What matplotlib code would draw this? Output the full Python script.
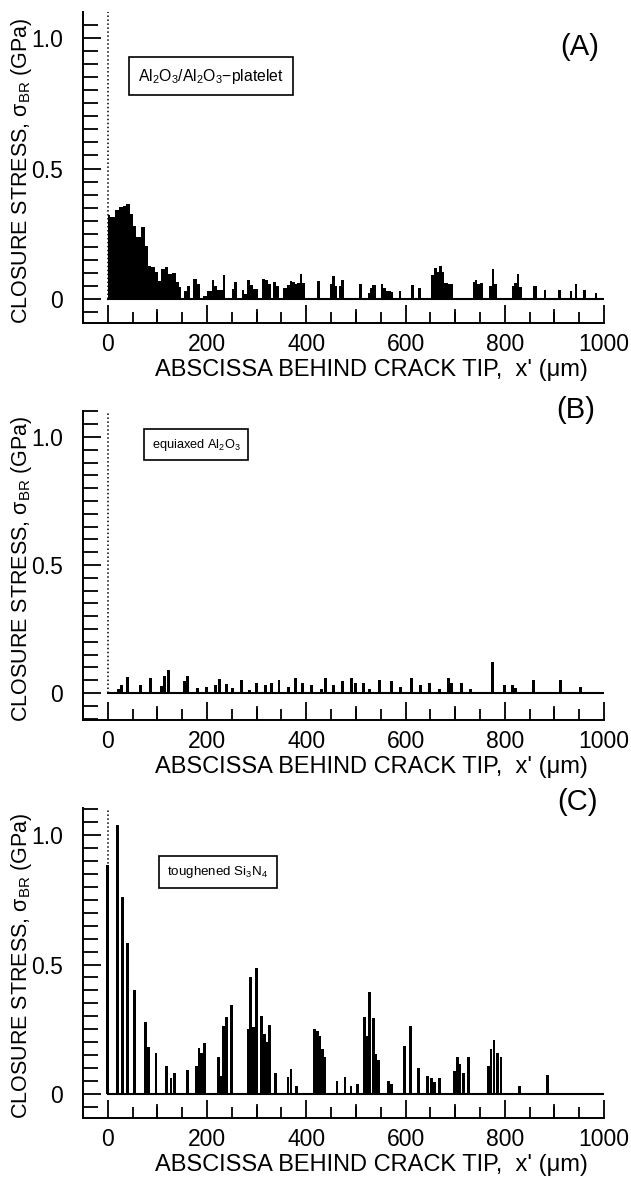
import matplotlib
matplotlib.use("Agg")
import matplotlib.pyplot as plt
from matplotlib.ticker import MultipleLocator, FixedLocator

plt.rcParams.update({
    "font.family": ["Liberation Sans", "DejaVu Sans"],
    "mathtext.fontset": "custom",
    "mathtext.rm": "Liberation Sans",
    "mathtext.it": "Liberation Sans",
    "mathtext.bf": "Liberation Sans",
})

# ---------------------------------------------------------------- data (um, GPa)
# (A) Al2O3/Al2O3-platelet : bars given by left edge, right edge, height
a_left = [0, 5.4, 14.1, 22.8, 30.9, 36.3, 44.4, 51.1, 57.8, 65.9, 74.6, 81.3, 88, 96.1,
          101.5, 108.2, 114.9, 121.6, 128.4, 137.1, 143.8, 153.9, 158.6, 172, 178.8,
          192.2, 198.9, 209, 213.7, 219.1, 232.5, 249.3, 254, 269.5, 274.2, 280.9, 286.3,
          293, 310.5, 316.5, 323.3, 333.3, 338.7, 353.5, 360.2, 366.9, 371.6, 376.3,
          381, 387, 392, 420.7, 447.5, 452.8, 457.5, 466, 470.5, 506.7, 523.5, 528,
          533, 550, 555.6, 561, 564.5, 570, 586, 611.8, 626, 652, 657, 662.6, 668,
          672.7, 678, 686, 735, 740, 745, 750.6, 767.5, 774, 779, 814, 819, 825.6,
          829.6, 857, 879, 908, 931.5, 941, 958, 981.5]
a_right = [5.4, 14.1, 22.8, 30.9, 36.3, 44.4, 51.1, 57.8, 65.9, 74.6, 81.3, 88, 96.1, 101.5,
           108.2, 114.9, 121.6, 128.4, 137.1, 143.8, 148.5, 158.6, 165.3, 178.8, 185.5,
           198.9, 209, 213.7, 219.1, 232.5, 236.6, 254, 259.4, 274.2, 279.6, 286.3, 293,
           303.1, 316.5, 323.3, 328.6, 338.7, 345.4, 360.2, 366.9, 371.6, 376.3, 381,
           387, 392, 397, 427.4, 452.8, 457.5, 462, 470.5, 476, 512, 528, 533,
           539.6, 555.6, 561, 564.5, 570, 575, 591, 617, 632, 657, 662.6, 668, 672.7,
           678, 686, 696, 740, 745, 750.6, 757, 774, 779, 784, 819, 825.6, 829.6,
           834, 864, 883, 914, 936, 946.5, 963, 986]
a_height = [0.323, 0.313, 0.341, 0.351, 0.357, 0.364, 0.326, 0.281, 0.239, 0.277, 0.204,
            0.128, 0.121, 0.102, 0.070, 0.115, 0.121, 0.096, 0.098, 0.064, 0.045, 0.032,
            0.051, 0.077, 0.058, 0.013, 0.032, 0.073, 0.051, 0.036, 0.092, 0.038, 0.064,
            0.034, 0.021, 0.073, 0.055, 0.040, 0.077, 0.073, 0.058, 0.064, 0.051, 0.042,
            0.052, 0.070, 0.065, 0.058, 0.061, 0.095, 0.061, 0.070, 0.057, 0.090, 0.048,
            0.048, 0.071, 0.057, 0.022, 0.041, 0.054, 0.057, 0.041, 0.029, 0.031, 0.025,
            0.031, 0.054, 0.043, 0.093, 0.120, 0.105, 0.128, 0.102, 0.061, 0.057, 0.067,
            0.074, 0.057, 0.061, 0.048, 0.115, 0.057, 0.048, 0.061, 0.095, 0.045, 0.048,
            0.035, 0.035, 0.029, 0.057, 0.035, 0.022]

# (B) equiaxed Al2O3 : bar centres and heights
b_x = [22, 28, 39, 66, 86, 108, 115, 122, 155, 161, 180, 199, 217, 225, 240, 252, 270,
       285, 300, 318, 330, 345, 365, 378, 392, 410, 430, 438, 455, 472, 492, 500, 515,
       528, 548, 572, 590, 612, 630, 648, 668, 686, 692, 712, 730, 775, 800, 815, 822,
       858, 912, 952]
b_h = [0.015, 0.030, 0.062, 0.033, 0.059, 0.029, 0.068, 0.091, 0.046, 0.068, 0.020,
       0.024, 0.030, 0.055, 0.035, 0.020, 0.050, 0.012, 0.040, 0.030, 0.040, 0.050,
       0.025, 0.060, 0.040, 0.030, 0.015, 0.060, 0.030, 0.045, 0.060, 0.040, 0.040,
       0.015, 0.050, 0.045, 0.025, 0.060, 0.030, 0.040, 0.015, 0.060, 0.040, 0.040,
       0.015, 0.120, 0.030, 0.030, 0.020, 0.050, 0.050, 0.025]

# (C) toughened Si3N4 : bar centres and heights
c_x = [0, 19.5, 29.5, 40, 54.5, 76, 82.5, 97, 118, 127.5, 134, 160.5, 178.5, 184, 189.5,
       195.5, 223, 228, 233.5, 239, 249.5, 283.5, 288, 294, 299.5, 309.5, 316, 322,
       326.5, 338, 363, 369, 380, 416, 422, 427, 432, 437.5, 462, 478, 490, 503,
       518, 522, 528, 535, 540.5, 545.5, 565, 572, 598, 610.5, 626.5, 645, 652.5, 659,
       668, 699, 704.5, 710, 716.5, 726.5, 767.5, 772.5, 778.5, 785.5, 792.5, 830, 886.5]
c_h = [0.884, 1.040, 0.759, 0.582, 0.400, 0.277, 0.180, 0.157, 0.110, 0.060, 0.082,
       0.093, 0.108, 0.177, 0.160, 0.198, 0.144, 0.070, 0.264, 0.299, 0.343, 0.250,
       0.450, 0.258, 0.485, 0.300, 0.232, 0.200, 0.265, 0.080, 0.067, 0.095, 0.030,
       0.250, 0.243, 0.225, 0.172, 0.141, 0.050, 0.067, 0.030, 0.040, 0.298, 0.224,
       0.393, 0.292, 0.155, 0.132, 0.050, 0.040, 0.185, 0.263, 0.100, 0.070, 0.060,
       0.045, 0.060, 0.087, 0.144, 0.116, 0.082, 0.141, 0.108, 0.172, 0.208, 0.157,
       0.141, 0.030, 0.073]

panel_tags = ["(A)", "(B)", "(C)"]
box_texts = [r"Al$_2$O$_3$/Al$_2$O$_3$$-$platelet", r"equiaxed Al$_2$O$_3$",
             r"toughened Si$_3$N$_4$"]
y_ticks = [0, 0.5, 1.0]
y_ticklabels = ["0", "0.5", "1.0"]
x_ticks = [0, 200, 400, 600, 800, 1000]

W, H = 631, 1180
fig = plt.figure(figsize=(W / 100, H / 100), dpi=100)

# pixel boxes: (top, bottom, y of 0, y of 1.0)
boxes = [(12, 323, 299, 38), (411, 720, 693, 437), (808, 1118, 1094, 835)]
x_left, x_right = 83, 604
tag_pos = [(952, 0.965), (943, 1.105), (946, 1.127)]
box_pos = [(208, 0.853), (178, 0.97), (222, 0.857)]
box_size = [11.3, 9.2, 9.6]

axes = []
for top, bot, y0, y1 in boxes:
    ax = fig.add_axes([x_left / W, 1 - bot / H, (x_right - x_left) / W, (bot - top) / H])
    s = y0 - y1
    ax.set_ylim(-(bot - y0) / s, (y0 - top) / s)
    ax.set_xlim(-50, 1000)
    axes.append(ax)

axA, axB, axC = axes
axA.bar(a_left, a_height, width=[r - l for l, r in zip(a_left, a_right)], align="edge",
        color="black", linewidth=0)
axB.bar(b_x, b_h, width=6, color="black", linewidth=0)
axC.bar(c_x, c_h, width=5.5, color="black", linewidth=0)

for i, ax in enumerate(axes):
    top, bot, y0, y1 = boxes[i]
    hpx = bot - top
    for sp in ("top", "right"):
        ax.spines[sp].set_visible(False)
    ax.spines["left"].set_linewidth(1.4)
    ax.spines["bottom"].set_linewidth(1.4)
    ax.axhline(0, xmin=50 / 1050, xmax=1, color="black", lw=1.5, zorder=3)
    ax.plot([0, 0], [0, ax.get_ylim()[1]], color="black", lw=1.1, ls=(0, (1, 1.6)))
    ax.yaxis.set_major_locator(FixedLocator(y_ticks))
    ax.set_yticklabels(y_ticklabels)
    ax.yaxis.set_minor_locator(MultipleLocator(0.05))
    ax.xaxis.set_major_locator(FixedLocator(x_ticks))
    ax.xaxis.set_minor_locator(MultipleLocator(50))
    ax.tick_params(axis="y", which="major", direction="in", length=13, width=1.3,
                   labelsize=16.5, pad=14.5)
    ax.tick_params(axis="y", which="minor", direction="in", length=11, width=1.3)
    ax.tick_params(axis="x", which="major", direction="in", length=13, width=1.3,
                   labelsize=16.5, pad=7)
    ax.tick_params(axis="x", which="minor", direction="in", length=8, width=1.3)
    # longer ticks at odd hundreds too
    for xv in (100, 300, 500, 700, 900):
        ax.plot([xv, xv], [ax.get_ylim()[0], ax.get_ylim()[0] + 13 / (y0 - y1)],
                color="black", lw=1.3, clip_on=False)
    ax.set_xlabel("ABSCISSA BEHIND CRACK TIP,  x' (μm)", fontsize=17)
    ax.xaxis.set_label_coords((371 - x_left) / (x_right - x_left), -36 / hpx)
    ax.set_ylabel(r"CLOSURE STRESS, $\sigma_{\rm BR}$ (GPa)", fontsize=15.5)
    ax.yaxis.set_label_coords((34 - x_left) / (x_right - x_left), 0.49)
    ax.text(*tag_pos[i], panel_tags[i], fontsize=21, ha="center", va="center", clip_on=False)
    ax.text(*box_pos[i], box_texts[i], fontsize=box_size[i], ha="center", va="center",
            bbox=dict(boxstyle="square,pad=0.6", fc="white", ec="black", lw=1.2))

fig.savefig("out.png", dpi=100)
